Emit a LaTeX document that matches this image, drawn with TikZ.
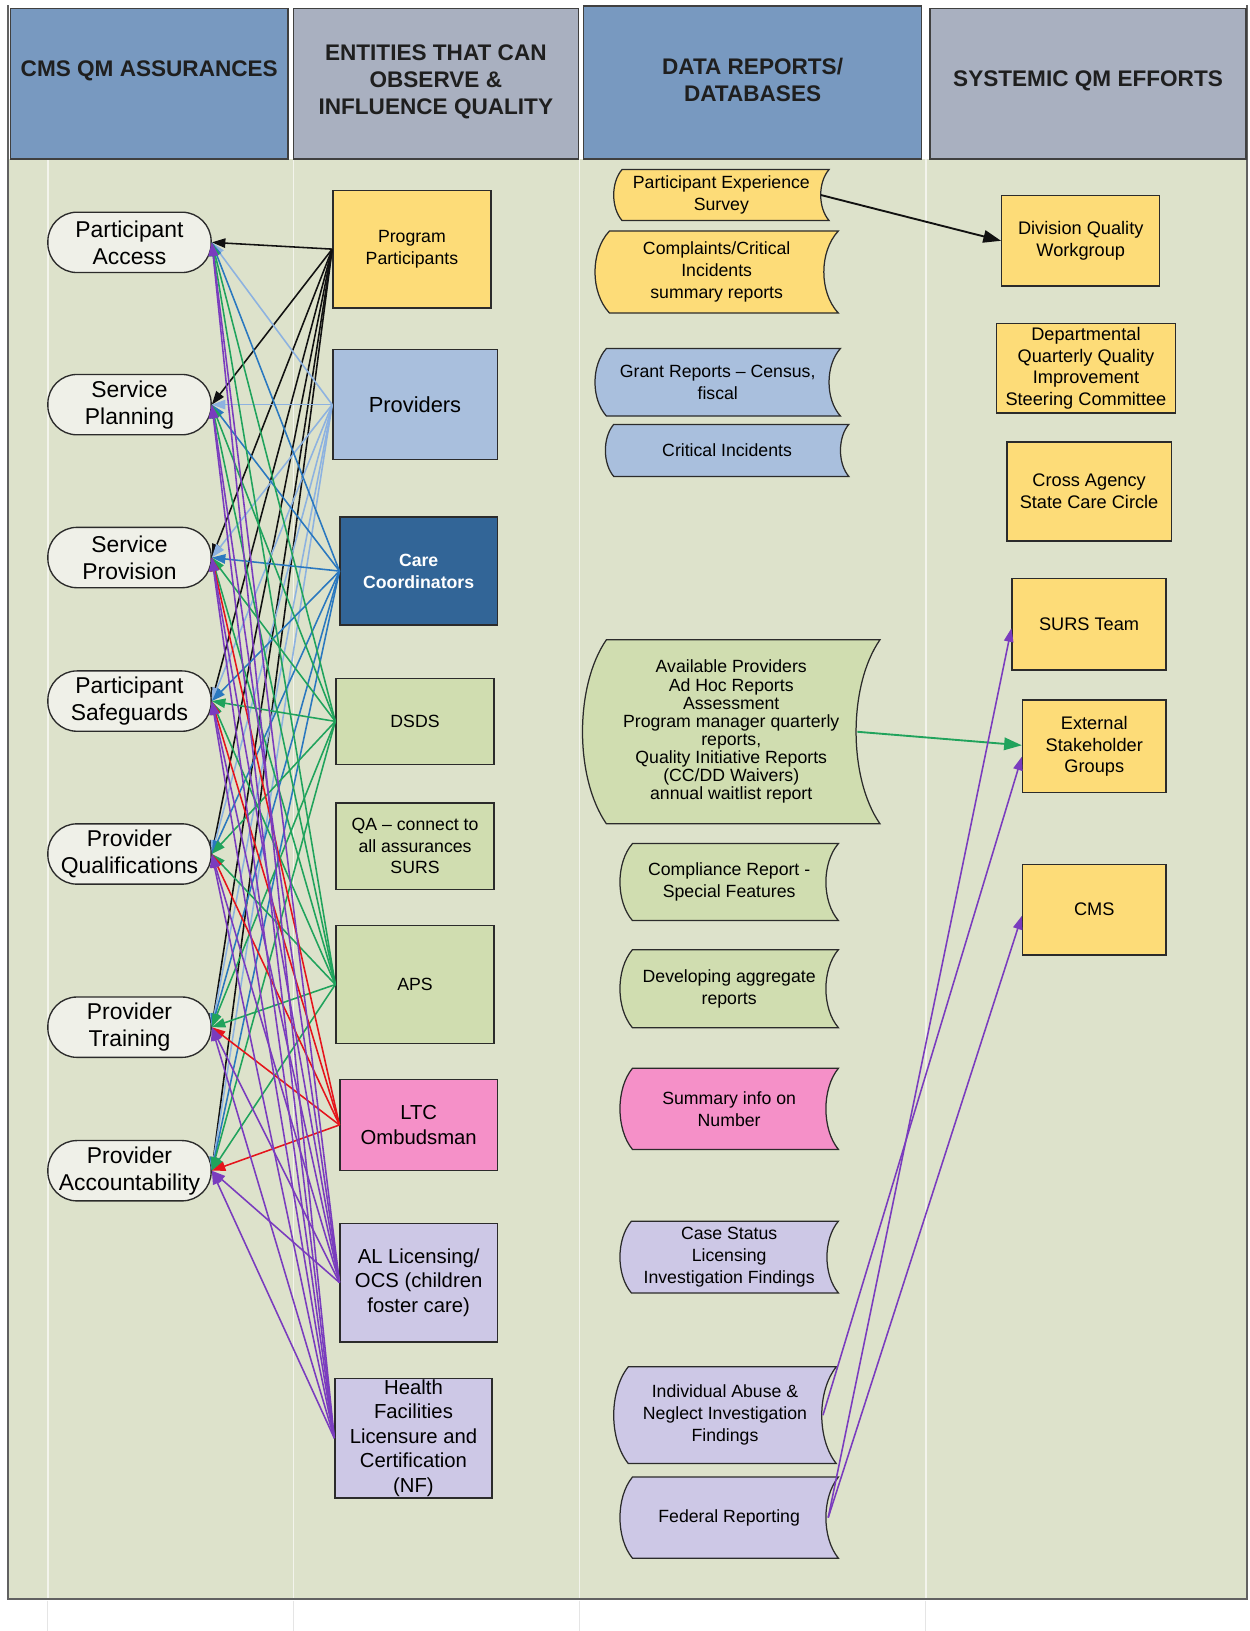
\documentclass[tikz,border=0pt]{standalone}
\usepackage{fontspec}
\setmainfont{Liberation Sans}
\usetikzlibrary{arrows.meta}

\definecolor{bodybg}{HTML}{DDE2CB}
\definecolor{laneline}{HTML}{F3F4EC}
\definecolor{hdrblue}{HTML}{7899C0}
\definecolor{hdrgrey}{HTML}{A9B0C0}
\definecolor{edge}{HTML}{2B2B2B}
\definecolor{pillfill}{HTML}{EFF0E8}
\definecolor{fyellow}{HTML}{FDDC78}
\definecolor{flblue}{HTML}{A9BFDD}
\definecolor{fdblue}{HTML}{326597}
\definecolor{fgreen}{HTML}{D0DDB0}
\definecolor{fpink}{HTML}{F590C8}
\definecolor{flav}{HTML}{CDC8E6}
\definecolor{cblack}{HTML}{111111}
\definecolor{clblue}{HTML}{8DB2E0}
\definecolor{cblue}{HTML}{2A78BF}
\definecolor{cgreen}{HTML}{20A35C}
\definecolor{cred}{HTML}{E5141C}
\definecolor{cpurple}{HTML}{7A3CBE}

% stored-data outline (convex left side, concave right side) with a named text node
% #1 name, #2 left, #3 top, #4 right, #5 bottom, #6 bulge, #7 fill, #8 node options, #9 text
\newcommand\storedshape[9]{%
  \path[draw=edge, line width=1.2pt, fill=#7]
    ({#2+#6},#3) -- (#4,#3)
    .. controls ({#4-1.333*#6},{#3+(#5-#3)*0.25}) and ({#4-1.333*#6},{#5-(#5-#3)*0.25}) .. (#4,#5)
    -- ({#2+#6},#5)
    .. controls ({#2-0.333*#6},{#5-(#5-#3)*0.25}) and ({#2-0.333*#6},{#3+(#5-#3)*0.25}) .. ({#2+#6},#3) -- cycle;
  \node[datatext, minimum width={#4-#2}, minimum height={#5-#3}, #8] (#1) at ({(#2+#4)/2},{(#3+#5)/2}) {#9};
}

\begin{document}
\begin{tikzpicture}[x=1pt, y=-1pt,
  hdrbox/.style={draw=edge!90, line width=1.5pt},
  hdrtext/.style={align=center, inner sep=0pt, font=\bfseries\fontsize{21.7}{26}\selectfont, text=black!88},
  pill/.style={draw=edge, line width=1.3pt, fill=pillfill, rounded corners=28pt,
    minimum width=157pt, minimum height=58pt, inner sep=0pt, align=center,
    font=\fontsize{22}{26}\selectfont},
  entity/.style={draw=edge, line width=1.3pt, inner sep=0pt, align=center,
    font=\fontsize{17}{20.5}\selectfont},
  bigentity/.style={entity, font=\fontsize{19.5}{23.8}\selectfont},
  datatext/.style={inner sep=0pt, align=center, font=\fontsize{17}{21}\selectfont},
  effort/.style={draw=edge, line width=1.3pt, fill=fyellow, inner sep=0pt, align=center,
    font=\fontsize{17.5}{21}\selectfont},
  link/.style={line width=1.5pt, -{Triangle[length=13pt,width=9pt]}},
  biglink/.style={line width=1.8pt, -{Triangle[length=17pt,width=12pt]}},
]
\useasboundingbox (0,0) rectangle (1201,1568);
\fill[white] (0,0) rectangle (1201,1568);

% swimlane body
\fill[bodybg] (8,153) rectangle (1199,1537);
\foreach \lx in {46,282,557,890} {
  \draw[laneline, line width=1.6pt] (\lx,153) -- (\lx,1537);
  \draw[black!10, line width=0.8pt] (\lx,1539) -- (\lx,1568);
}
\draw[black!62, line width=1.8pt] (8,5) -- (8,1537) -- (1199,1537) -- (1199,5);

% lane headers
\filldraw[hdrbox, fill=hdrblue] (10,8) rectangle (277,153);
\filldraw[hdrbox, fill=hdrgrey] (282,8) rectangle (556,153);
\filldraw[hdrbox, fill=hdrblue] (561,6) rectangle (886,153);
\filldraw[hdrbox, fill=hdrgrey] (894,8) rectangle (1198,153);
\node[hdrtext] (t1) at (143.5,68) {CMS QM ASSURANCES};
\node[hdrtext] (t2) at (419,79) {ENTITIES THAT CAN\\OBSERVE \&\\INFLUENCE QUALITY};
\node[hdrtext] (t3) at (723.5,77) {DATA REPORTS/\\DATABASES};
\node[hdrtext] (t4) at (1046,78) {SYSTEMIC QM EFFORTS};

% assurances
\node[pill] (pa)  at (124.5,233)    {Participant\\Access};
\node[pill] (spl) at (124.5,389)    {Service\\Planning};
\node[pill] (spv) at (124.5,536)    {Service\\Provision};
\node[pill] (psg) at (124.5,674)    {Participant\\Safeguards};
\node[pill] (pqu) at (124.5,821)    {Provider\\Qualifications};
\node[pill] (ptr) at (124.5,987.5)  {Provider\\Training};
\node[pill] (pac) at (124.5,1125.5) {Provider\\Accountability};

% entities
\node[entity, fill=fyellow, minimum width=152pt, minimum height=113pt] (pp) at (396,239.5) {Program\\Participants};
\node[entity, fill=flblue, minimum width=158pt, minimum height=106pt, font=\fontsize{21}{25}\selectfont] (prov) at (399,389) {Providers};
\node[entity, fill=fdblue, minimum width=151pt, minimum height=104pt, text=white, font=\bfseries\fontsize{17}{21}\selectfont] (cc) at (402.5,549) {Care\\Coordinators};
\node[entity, fill=fgreen, minimum width=152pt, minimum height=83pt] (dsds) at (399,693.5) {DSDS};
\node[entity, fill=fgreen, minimum width=152pt, minimum height=83pt] (qa) at (399,813.5) {QA -- connect to\\all assurances\\SURS};
\node[entity, fill=fgreen, minimum width=152pt, minimum height=113pt] (aps) at (399,946.5) {APS};
\node[bigentity, fill=fpink, minimum width=151pt, minimum height=87pt] (ltc) at (402.5,1081.5) {LTC\\Ombudsman};
\node[bigentity, fill=flav, minimum width=151pt, minimum height=114pt] (al) at (402.5,1233) {AL Licensing/\\OCS (children\\foster care)};
\node[bigentity, fill=flav, minimum width=151pt, minimum height=115pt, font=\fontsize{19.5}{23.5}\selectfont] (hf) at (397.5,1382.5) {Health\\Facilities\\Licensure and\\Certification\\(NF)};

% data reports and databases
\storedshape{pes}{590}{163}{797}{212}{8}{fyellow}{}{Participant Experience\\Survey}
\storedshape{csr}{572}{222}{806}{301}{14}{fyellow}{}{Complaints/Critical\\Incidents\\summary reports}
\storedshape{grc}{572}{335}{808}{400}{11}{flblue}{}{Grant Reports -- Census,\\fiscal}
\storedshape{cri}{582}{408}{816}{458}{8}{flblue}{}{Critical Incidents}
\storedshape{avp}{560}{615}{846}{792}{23}{fgreen}{font=\fontsize{17}{17.4}\selectfont}{Available Providers\\Ad Hoc Reports\\Assessment\\Program manager quarterly\\reports,\\Quality Initiative Reports\\(CC/DD Waivers)\\annual waitlist report}
\storedshape{cmp}{596}{811}{806}{885}{12}{fgreen}{}{Compliance Report -\\Special Features}
\storedshape{dev}{596}{913}{806}{988}{12}{fgreen}{}{Developing aggregate\\reports}
\storedshape{sum}{596}{1027}{806}{1105}{12}{fpink}{}{Summary info on\\Number}
\storedshape{cst}{596}{1174}{806}{1243}{11}{flav}{}{Case Status\\Licensing\\Investigation Findings}
\storedshape{iab}{590}{1314}{804}{1407}{14}{flav}{}{Individual Abuse \&\\Neglect Investigation\\Findings}
\storedshape{fed}{596}{1420}{806}{1498}{12}{flav}{}{Federal Reporting}

% systemic efforts
\node[effort, minimum width=152pt, minimum height=87pt] (dqw) at (1039,231.5) {Division Quality\\Workgroup};
\node[effort, minimum width=172pt, minimum height=86pt] (dqq) at (1044,354) {Departmental\\Quarterly Quality\\Improvement\\Steering Committee};
\node[effort, minimum width=158pt, minimum height=95pt] (csc) at (1047,472.5) {Cross Agency\\State Care Circle};
\node[effort, minimum width=148pt, minimum height=88pt] (surs) at (1047,600) {SURS Team};
\node[effort, minimum width=138pt, minimum height=89pt] (esg) at (1052,717.5) {External\\Stakeholder\\Groups};
\node[effort, minimum width=138pt, minimum height=87pt] (cms) at (1052,874.5) {CMS};

% entities feeding every assurance
\foreach \src/\col in {pp/cblack, prov/clblue, cc/cblue, dsds/cgreen, aps/cgreen} {
  \foreach \dst in {pa, spl, spv, psg, pqu, ptr, pac}
    \draw[link, color=\col] (\src.west) -- (\dst.east);
}
\foreach \dst in {spv, psg, pqu, ptr, pac}
  \draw[link, color=cred] (ltc.west) -- (\dst.east);
\foreach \src in {al, hf} {
  \foreach \dst in {pa, spl, spv, psg, pqu, ptr, pac}
    \draw[link, color=cpurple] (\src.west) -- (\dst.east);
}

% reports feeding systemic efforts
\draw[biglink, color=cblack] ([xshift=-8pt]pes.east) -- (dqw.west);
\draw[biglink, color=cgreen] ([xshift=-22pt]avp.east) -- ([yshift=1pt]esg.west);
\draw[link, color=cpurple] ([xshift=-13pt]iab.east) -- ([yshift=-10pt]esg.west);
\draw[link, color=cpurple] ([xshift=-10pt]fed.east) -- ([yshift=-4pt]surs.west);
\draw[link, color=cpurple] ([xshift=-10pt]fed.east) -- ([yshift=-6pt]cms.west);
\end{tikzpicture}
\end{document}
